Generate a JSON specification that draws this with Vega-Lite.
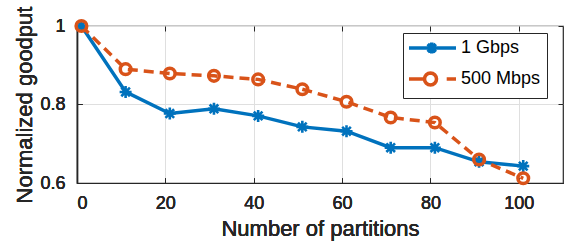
{
  "$schema": "https://vega.github.io/schema/vega-lite/v6.json",
  "width": 486,
  "height": 157,
  "autosize": {"type": "none"},
  "padding": {"left": 77, "top": 26, "right": 3, "bottom": 63},
  "background": "white",
  "config": {
    "font": "Liberation Sans",
    "view": {"stroke": "#262626", "strokeWidth": 1.2},
    "axis": {
      "labelFont": "Liberation Sans",
      "titleFont": "Liberation Sans",
      "labelFontSize": 18,
      "titleFontSize": 22,
      "titleFontWeight": "normal",
      "labelColor": "#262626",
      "titleColor": "#262626",
      "domainColor": "#262626",
      "domainWidth": 1.2,
      "tickColor": "#262626",
      "tickSize": -5,
      "tickWidth": 1,
      "gridColor": "#dfdfdf",
      "gridWidth": 1
    }
  },
  "data": {
    "values": [
      {"p": 1, "g": 1.0, "series": "1 Gbps"},
      {"p": 11, "g": 0.832, "series": "1 Gbps"},
      {"p": 21, "g": 0.777, "series": "1 Gbps"},
      {"p": 31, "g": 0.789, "series": "1 Gbps"},
      {"p": 41, "g": 0.771, "series": "1 Gbps"},
      {"p": 51, "g": 0.743, "series": "1 Gbps"},
      {"p": 61, "g": 0.732, "series": "1 Gbps"},
      {"p": 71, "g": 0.690, "series": "1 Gbps"},
      {"p": 81, "g": 0.690, "series": "1 Gbps"},
      {"p": 91, "g": 0.654, "series": "1 Gbps"},
      {"p": 101, "g": 0.643, "series": "1 Gbps"},
      {"p": 1, "g": 1.0, "series": "500 Mbps"},
      {"p": 11, "g": 0.890, "series": "500 Mbps"},
      {"p": 21, "g": 0.879, "series": "500 Mbps"},
      {"p": 31, "g": 0.873, "series": "500 Mbps"},
      {"p": 41, "g": 0.864, "series": "500 Mbps"},
      {"p": 51, "g": 0.839, "series": "500 Mbps"},
      {"p": 61, "g": 0.807, "series": "500 Mbps"},
      {"p": 71, "g": 0.767, "series": "500 Mbps"},
      {"p": 81, "g": 0.754, "series": "500 Mbps"},
      {"p": 91, "g": 0.660, "series": "500 Mbps"},
      {"p": 101, "g": 0.612, "series": "500 Mbps"}
    ]
  },
  "encoding": {
    "x": {
      "field": "p", "type": "quantitative",
      "scale": {"domain": [0, 110], "nice": false, "zero": false},
      "axis": {"orient": "bottom", "values": [0, 20, 40, 60, 80, 100], "title": "Number of partitions", "labelPadding": 16, "titlePadding": 6}
    },
    "y": {
      "field": "g", "type": "quantitative",
      "scale": {"domain": [0.6, 1.0], "nice": false, "zero": false},
      "axis": {"orient": "left", "values": [0.6, 0.8, 1.0], "title": "Normalized goodput", "labelPadding": 17, "titlePadding": 3, "labelExpr": "datum.value == 1 ? '1' : format(datum.value, '.1f')"}
    },
    "color": {
      "field": "series", "type": "nominal",
      "scale": {"domain": ["1 Gbps", "500 Mbps"], "range": ["#0072BD", "#D95319"]}
    }
  },
  "layer": [
    {
      "transform": [{"filter": "datum.series === '1 Gbps'"}],
      "mark": {"type": "line", "strokeWidth": 3.5, "clip": false},
      "encoding": {
        "color": {
          "field": "series", "type": "nominal",
          "scale": {"domain": ["1 Gbps", "500 Mbps"], "range": ["#0072BD", "#D95319"]},
          "legend": {
            "title": null,
            "orient": "none",
            "legendX": 326,
            "legendY": 7,
            "padding": 6,
            "fillColor": "white",
            "strokeColor": "#262626",
            "labelFont": "Liberation Sans",
            "labelFontSize": 18,
            "labelFontWeight": "normal",
            "labelColor": "#000000",
            "labelOffset": 34,
            "rowPadding": 5,
            "symbolType": "circle",
            "symbolSize": 100,
            "symbolStrokeWidth": 3.5,
            "encode": {
              "symbols": {
                "update": {
                  "shape": {"signal": "datum.value === '1 Gbps' ? 'M-1.8,0H7.6M2.75,-1.1V1.1M1.65,0H3.85M1.95,-0.8L3.55,0.8M1.95,0.8L3.55,-0.8' : 'M-1.8,0H1.3M5.74,0H7.6M3.7,0L3.61,0.46L3.35,0.85L2.96,1.11L2.5,1.2L2.04,1.11L1.65,0.85L1.39,0.46L1.3,0L1.39,-0.46L1.65,-0.85L2.04,-1.11L2.5,-1.2L2.96,-1.11L3.35,-0.85L3.61,-0.46Z'"},
                  "size": {"value": 100},
                  "fill": {"value": "transparent"},
                  "strokeWidth": {"value": 3.5}
                }
              }
            }
          }
        }
      }
    },
    {
      "transform": [{"filter": "datum.series === '500 Mbps'"}],
      "mark": {"type": "line", "strokeWidth": 3.5, "strokeDash": [10, 6], "clip": false},
      "encoding": {"color": {"field": "series", "type": "nominal", "legend": null}}
    },
    {
      "transform": [{"filter": "datum.series === '1 Gbps'"}],
      "mark": {"type": "point", "shape": "M-1,0H1M0,-1V1M-0.72,-0.72L0.72,0.72M-0.72,0.72L0.72,-0.72", "size": 144, "filled": false, "strokeWidth": 2.6, "opacity": 1, "clip": false},
      "encoding": {"color": {"field": "series", "type": "nominal", "legend": null}}
    },
    {
      "transform": [{"filter": "datum.series === '500 Mbps'"}],
      "mark": {"type": "point", "shape": "circle", "size": 113, "filled": false, "strokeWidth": 3.5, "opacity": 1, "clip": false},
      "encoding": {"color": {"field": "series", "type": "nominal", "legend": null}}
    },
    {
      "mark": {"type": "point", "opacity": 0},
      "encoding": {
        "x": {
          "field": "p", "type": "quantitative",
          "scale": {"domain": [0, 110], "nice": false, "zero": false},
          "axis": {"orient": "top", "values": [0, 20, 40, 60, 80, 100], "title": null, "labels": false, "grid": false, "domain": false}
        },
        "y": {
          "field": "g", "type": "quantitative",
          "scale": {"domain": [0.6, 1.0], "nice": false, "zero": false},
          "axis": {"orient": "right", "values": [0.6, 0.8, 1.0], "title": null, "labels": false, "grid": false, "domain": false}
        },
        "color": {"field": "series", "type": "nominal", "legend": null}
      }
    }
  ],
  "resolve": {"axis": {"x": "independent", "y": "independent"}}
}
